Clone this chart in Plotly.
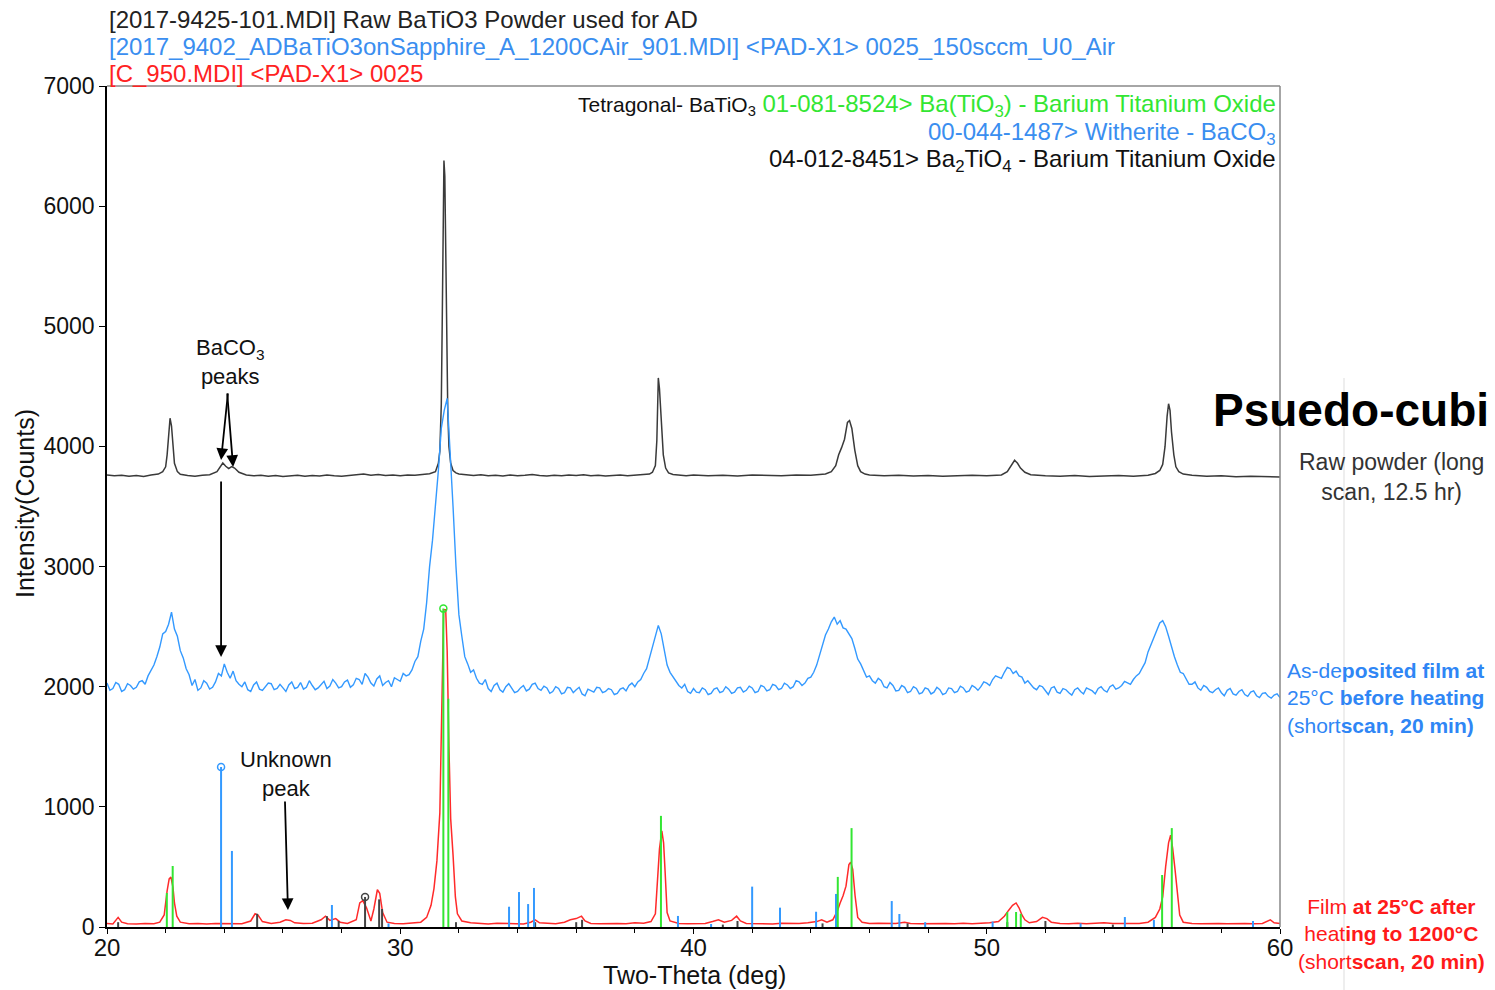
import plotly.graph_objects as go

# ---------------- data ----------------
# Raw BaTiO3 powder (black)
black_x = [20.0, 20.25, 20.5, 20.75, 21.0, 21.25, 21.5, 21.75, 21.9, 22.0, 22.05, 22.1, 22.15, 22.2, 22.25, 22.3, 22.4, 22.5,
           22.75, 23.0, 23.25, 23.5, 23.75, 23.9, 23.95, 24.05, 24.15, 24.25, 24.35, 24.5, 24.75, 25.0, 25.25, 25.5, 25.75,
           26.0, 26.25, 26.5, 26.75, 27.0, 27.25, 27.5, 27.75, 28.0, 28.25, 28.5, 28.75, 29.0, 29.25, 29.5, 29.75, 30.0,
           30.25, 30.5, 30.75, 31.0, 31.2, 31.3, 31.35, 31.4, 31.43, 31.46, 31.49, 31.52, 31.55, 31.58, 31.62, 31.66, 31.72,
           31.8, 31.9, 32.0, 32.25, 32.5, 32.75, 33.0, 33.25, 33.5, 33.75, 34.0, 34.25, 34.5, 34.75, 35.0, 35.25, 35.5, 35.75,
           36.0, 36.25, 36.5, 36.75, 37.0, 37.25, 37.5, 37.75, 38.0, 38.25, 38.5, 38.6, 38.7, 38.75, 38.8, 38.84, 38.88, 38.92,
           38.97, 39.05, 39.15, 39.3, 39.5, 39.75, 40.0, 40.5, 41.0, 41.5, 42.0, 42.5, 43.0, 43.5, 44.0, 44.5, 44.7, 44.85,
           44.95, 45.05, 45.15, 45.25, 45.32, 45.4, 45.5, 45.6, 45.7, 45.85, 46.0, 46.5, 47.0, 47.5, 48.0, 48.5, 49.0, 49.5,
           50.0, 50.5, 50.7, 50.85, 50.95, 51.05, 51.15, 51.3, 51.5, 52.0, 52.5, 53.0, 53.5, 54.0, 54.5, 55.0, 55.5, 55.75,
           55.9, 56.0, 56.08, 56.15, 56.2, 56.25, 56.3, 56.38, 56.45, 56.55, 56.7, 57.0, 57.5, 58.0, 58.5, 59.0, 59.5, 60.0]
black_y = [3762, 3755, 3760, 3752, 3758, 3750, 3762, 3770, 3790, 3830, 3930, 4130, 4235, 4170, 4000, 3860, 3790, 3768,
           3758, 3752, 3760, 3765, 3790, 3840, 3862, 3835, 3815, 3832, 3820, 3785, 3762, 3755, 3760, 3752, 3758,
           3750, 3756, 3760, 3752, 3758, 3754, 3762, 3756, 3752, 3758, 3762, 3770, 3760, 3766, 3758, 3762, 3756,
           3762, 3760, 3766, 3772, 3790, 3860, 3960, 4350, 5000, 6000, 6380, 6250, 5600, 4900, 4300, 4000, 3860,
           3800, 3780, 3770, 3762, 3758, 3764, 3756, 3760, 3754, 3762, 3756, 3760, 3766, 3758, 3754, 3760, 3756, 3762,
           3758, 3764, 3756, 3760, 3754, 3758, 3762, 3756, 3760, 3764, 3770, 3785, 3840, 4050, 4570, 4480, 4300, 4100,
           3930, 3820, 3780, 3766, 3760, 3756, 3762, 3756, 3760, 3754, 3762, 3758, 3756, 3762, 3760, 3770, 3790, 3840,
           3930, 3990, 4060, 4200, 4215, 4150, 3970, 3840, 3790, 3770, 3762, 3756, 3760, 3754, 3758, 3752, 3756, 3760,
           3756, 3762, 3790, 3850, 3885, 3860, 3820, 3785, 3765, 3756, 3752, 3758, 3750, 3754, 3758, 3752, 3760, 3775,
           3800, 3850, 4000, 4250, 4355, 4300, 4120, 3930, 3830, 3790, 3770, 3760, 3752, 3756, 3748, 3752, 3746, 3745]

# As-deposited film (blue), sampled every 0.1 deg from 20 to 60 (one row = 2 deg)
blue_step = 0.1
blue_y = [2030, 1970, 1985, 2035, 2020, 1960, 1975, 2025, 2010, 1980, 1995, 2040, 2050, 2020, 2090, 2140, 2180, 2250, 2330, 2440,
          2460, 2520, 2620, 2480, 2420, 2300, 2240, 2150, 2100, 2010, 2060, 1970, 1990, 2050, 2030, 1980, 1995, 2040, 2110, 2090,
          2190, 2120, 2070, 2130, 2050, 2020, 2000, 2040, 1975, 1960, 2015, 2040, 1980, 1970, 2005, 2030, 2025, 1975, 1985, 2020,
          1990, 1960, 2015, 2040, 1985, 1995, 2035, 1980, 1995, 2050, 2010, 1975, 1990, 2020, 2045, 1985, 2005, 2060, 2030, 1990,
          2000, 2040, 2055, 1995, 2015, 2070, 2060, 2020, 2110, 2080, 2030, 2005, 2065, 2090, 2010, 2035, 2050, 2000, 2075, 2060,
          2045, 2110, 2090, 2100, 2140, 2210, 2250, 2380, 2480, 2700, 3000, 3220, 3500, 3800, 4150, 4300, 4400, 4000, 3500, 3000,
          2600, 2420, 2250, 2190, 2120, 2140, 2070, 2030, 2020, 2060, 1985, 1960, 2010, 2030, 1975, 1955, 2000, 2025, 1990, 1950,
          1960, 1990, 2010, 1965, 1980, 2020, 2030, 1985, 1970, 2005, 1990, 1945, 1960, 2000, 1985, 1940, 1950, 1995, 1990, 1950,
          1975, 1995, 1940, 1925, 1980, 1970, 1955, 1995, 1990, 1950, 1960, 1985, 1975, 1935, 1945, 1980, 1990, 1965, 2010, 2030,
          2000, 2040, 2060, 2110, 2150, 2240, 2330, 2420, 2510, 2440, 2300, 2180, 2120, 2080, 2040, 2010, 1990, 2020, 1960, 1945,
          1985, 1955, 1950, 1990, 1975, 1935, 1945, 1980, 1990, 1950, 1960, 2000, 1980, 1945, 1955, 1990, 1995, 1955, 1970, 2005,
          1990, 1950, 1960, 2010, 2000, 1965, 1975, 2020, 2010, 1975, 1985, 2030, 2015, 1985, 2000, 2050, 2040, 2010, 2030, 2070,
          2080, 2120, 2180, 2270, 2350, 2430, 2480, 2540, 2580, 2520, 2550, 2490, 2480, 2440, 2400, 2320, 2230, 2190, 2140, 2080,
          2090, 2050, 2030, 2070, 2050, 2000, 1990, 2035, 2010, 1965, 1970, 2010, 1995, 1950, 1960, 2000, 1985, 1940, 1950, 1990,
          1980, 1940, 1955, 1995, 1975, 1935, 1945, 1990, 1985, 1950, 1960, 2005, 1990, 1955, 1965, 2010, 1995, 1970, 2000, 2040,
          2030, 2010, 2060, 2090, 2080, 2070, 2120, 2160, 2150, 2110, 2130, 2090, 2080, 2030, 2050, 2020, 1990, 1975, 2010, 2000,
          1970, 1935, 1990, 2000, 1955, 1945, 1985, 1975, 1950, 1930, 1975, 1990, 1960, 1940, 1990, 1980, 1965, 1940, 1985, 2000,
          1970, 1955, 2000, 2015, 1980, 1990, 2010, 2045, 2030, 2020, 2060, 2090, 2110, 2150, 2200, 2290, 2350, 2420, 2480, 2530,
          2550, 2500, 2420, 2330, 2250, 2180, 2120, 2110, 2060, 2020, 2020, 2040, 1990, 1970, 2010, 1995, 1960, 1950, 1975, 1990,
          1950, 1925, 1970, 1985, 1940, 1930, 1960, 1975, 1935, 1920, 1955, 1965, 1925, 1910, 1945, 1950, 1920, 1905, 1930, 1940,
          1910]
blue_x = [round(20 + blue_step * i, 2) for i in range(len(blue_y))]

# Film after heating to 1200 C (red)
red_x = [20.0, 20.2, 20.38, 20.5, 20.7, 21.0, 21.3, 21.6, 21.8, 21.95, 22.05, 22.12, 22.18, 22.25, 22.3, 22.38, 22.5, 22.8,
         23.1, 23.4, 23.7, 24.0, 24.3, 24.6, 24.9, 25.05, 25.15, 25.3, 25.6, 25.9, 26.1, 26.25, 26.4, 26.7, 27.0, 27.3,
         27.45, 27.6, 27.8, 27.95, 28.2, 28.5, 28.62, 28.72, 28.85, 29.0, 29.1, 29.22, 29.3, 29.4, 29.55, 29.8, 30.1,
         30.4, 30.7, 30.9, 31.05, 31.15, 31.25, 31.35, 31.42, 31.48, 31.55, 31.6, 31.66, 31.72, 31.8, 31.88, 31.95, 32.1,
         32.4, 32.7, 33.0, 33.3, 33.6, 33.9, 34.2, 34.45, 34.6, 34.75, 35.0, 35.3, 35.6, 35.8, 36.0, 36.18, 36.3, 36.5,
         36.8, 37.1, 37.4, 37.7, 38.0, 38.3, 38.55, 38.7, 38.78, 38.84, 38.92, 38.98, 39.03, 39.1, 39.2, 39.5, 39.8,
         40.1, 40.4, 40.65, 40.85, 41.05, 41.3, 41.47, 41.6, 41.8, 42.1, 42.4, 42.7, 43.0, 43.3, 43.6, 43.9, 44.2,
         44.37, 44.55, 44.75, 44.9, 45.0, 45.1, 45.2, 45.3, 45.36, 45.43, 45.51, 45.6, 45.75, 46.0, 46.3, 46.6, 46.9,
         47.2, 47.4, 47.7, 48.0, 48.3, 48.6, 48.9, 49.2, 49.5, 49.8, 50.1, 50.4, 50.6, 50.75, 50.88, 51.0, 51.1, 51.2,
         51.3, 51.45, 51.7, 51.9, 52.05, 52.2, 52.5, 52.8, 53.1, 53.4, 53.7, 54.0, 54.3, 54.6, 54.9, 55.2, 55.5, 55.75,
         55.9, 56.0, 56.1, 56.2, 56.27, 56.34, 56.42, 56.5, 56.58, 56.7, 57.0, 57.3, 57.6, 57.9, 58.2, 58.5, 58.8, 59.1,
         59.4, 59.67, 59.8, 60.0]
red_y = [30, 25, 80, 40, 28, 25, 30, 28, 40, 100, 300, 400, 415, 330, 200, 90, 40, 28,
         30, 25, 30, 28, 32, 28, 50, 110, 100, 45, 30, 40, 60, 55, 35, 30, 32, 60,
         90, 55, 70, 40, 30, 60, 200, 220, 160, 50, 150, 310, 280, 120, 40, 30, 28,
         32, 40, 80, 180, 320, 550, 950, 1900, 2640, 2640, 2300, 1500, 900, 600, 250, 110, 50,
         35, 30, 25, 32, 28, 30, 25, 40, 60, 35, 30, 28, 40, 60, 70, 90, 50, 30,
         28, 32, 30, 28, 35, 32, 45, 110, 400, 650, 800, 700, 470, 120, 50, 30, 28,
         32, 30, 45, 60, 40, 55, 90, 50, 30, 28, 30, 26, 32, 28, 30, 35, 45,
         60, 40, 60, 130, 200, 260, 340, 520, 540, 480, 260, 80, 40, 30, 32, 28, 30,
         40, 30, 28, 30, 26, 30, 28, 32, 28, 30, 35, 45, 90, 140, 180, 200, 160, 100,
         60, 35, 45, 80, 70, 40, 30, 28, 32, 28, 30, 35, 30, 28, 32, 30, 40, 80,
         150, 250, 500, 700, 765, 655, 480, 300, 100, 40, 30, 28, 32, 30, 28, 32, 30, 28,
         30, 60, 35, 30]

# Reference patterns (stick positions / heights)
green_x = [22.04, 22.24, 31.47, 31.64, 38.89, 44.92, 45.39, 50.70, 51.00, 51.16, 55.98, 56.31]
green_h = [283, 508, 2650, 1900, 925, 417, 823, 125, 125, 110, 433, 823]
bluestick_x = [23.89, 24.26, 27.67, 29.6, 33.71, 34.05, 34.36, 34.56, 39.47, 40.6, 42.0, 42.95, 44.18, 44.86,
               46.76, 47.02, 47.9, 50.2, 53.2, 54.71, 55.7, 59.08]
bluestick_h = [1332, 633, 183, 30, 169, 291, 191, 325, 92, 25, 336, 161, 127, 275,
               216, 108, 40, 45, 30, 83, 60, 50]
gray_x = [20.38, 25.12, 27.5, 27.9, 28.8, 29.28, 29.38, 31.9, 34.6, 36.0, 36.2, 41.0, 41.5, 44.4, 47.3, 50.7, 52.0, 54.3]
gray_h = [40, 110, 90, 50, 250, 230, 150, 40, 40, 40, 60, 20, 50, 30, 30, 40, 50, 20]

# selected-peak markers
mark_x = [23.89, 31.47, 28.8]
mark_y = [1332, 2650, 250]

# ---------------- styling helpers ----------------
FONT = "Liberation Sans, Arial, sans-serif"
W, H = 1495, 990
OFF = 8  # page body margin of the browser
L, R, T, B = 107, 1280, 86, 927  # plot area in page pixels


def pxx(p):
    return (p - L) / (R - L)


def pxy(p):
    return (B - p) / (B - T)


def sticks(xs, hs):
    X, Y = [], []
    for x, h in zip(xs, hs):
        X += [x, x, None]
        Y += [0, h, None]
    return X, Y


BLACK = "#3a3a3a"
BLUE = "#3399ff"
RED = "#ff2a2a"
GREEN = "#33e633"
GRAY = "#444444"

fig = go.Figure()
fig.add_trace(go.Scatter(x=black_x, y=black_y, mode="lines", line=dict(color=BLACK, width=1.5), showlegend=False))
fig.add_trace(go.Scatter(x=blue_x, y=blue_y, mode="lines", line=dict(color=BLUE, width=1.4), showlegend=False))
fig.add_trace(go.Scatter(x=red_x, y=red_y, mode="lines", line=dict(color=RED, width=1.5), showlegend=False))
sx, sy = sticks(gray_x, gray_h)
fig.add_trace(go.Scatter(x=sx, y=sy, mode="lines", line=dict(color=GRAY, width=2), showlegend=False))
sx, sy = sticks(bluestick_x, bluestick_h)
fig.add_trace(go.Scatter(x=sx, y=sy, mode="lines", line=dict(color=BLUE, width=2), showlegend=False))
sx, sy = sticks(green_x, green_h)
fig.add_trace(go.Scatter(x=sx, y=sy, mode="lines", line=dict(color=GREEN, width=2), showlegend=False))
fig.add_trace(go.Scatter(x=mark_x, y=mark_y, mode="markers", showlegend=False,
                         marker=dict(symbol="circle-open", size=7, line=dict(width=1.5),
                                     color=[BLUE, GREEN, GRAY])))

ann = []


def text(xp, yp, s, size, color, xanchor="left", align="left", yanchor="middle", textangle=0):
    ann.append(dict(x=pxx(xp), y=pxy(yp), xref="paper", yref="paper", text=s, showarrow=False,
                    xanchor=xanchor, yanchor=yanchor, align=align, textangle=textangle, borderpad=0,
                    font=dict(family=FONT, size=size, color=color)))


# header lines
text(108, 20, "[2017-9425-101.MDI] Raw BaTiO3 Powder used for AD", 24, "#222222")
text(108, 47, "[2017_9402_ADBaTiO3onSapphire_A_1200CAir_901.MDI] &lt;PAD-X1&gt; 0025_150sccm_U0_Air", 24, "#3a8ef0")
text(108, 74, "[C_950.MDI] &lt;PAD-X1&gt; 0025", 24, "#ff2222")

# reference legend inside plot
text(1277, 105, "<span style='font-size:21px'>Tetragonal- BaTiO<sub>3</sub></span> "
     "<span style='color:#33e633'>01-081-8524&gt; Ba(TiO<sub>3</sub>) - Barium Titanium Oxide</span>",
     24, "#111111", xanchor="right", align="right")
text(1277, 133, "00-044-1487&gt; Witherite - BaCO<sub>3</sub>", 24, "#3a8ef0", xanchor="right", align="right")
text(1277, 160, "04-012-8451&gt; Ba<sub>2</sub>TiO<sub>4</sub> - Barium Titanium Oxide", 24, "#111111",
     xanchor="right", align="right")

# in-plot labels
text(230, 362, "BaCO<sub>3</sub><br>peaks", 22, "#111111", xanchor="center", align="center")
text(286, 774, "Unknown<br>peak", 22, "#111111", xanchor="center", align="center")

# right-side labels
text(1212, 410, "<b>Psuedo-cubic</b>", 46, "#000000")
text(1391, 477, "Raw powder (long<br>scan, 12.5 hr)", 23, "#333333", xanchor="center", align="center")
text(1286, 698, "As-de<b>posited film at</b><br>25°C <b>before heating</b><br>(short<b>scan, 20 min)</b>",
     21, "#2f86f5")
text(1391, 934, "Film <b>at 25°C after</b><br>heat<b>ing to 1200°C</b><br>(short<b>scan, 20 min)</b>",
     21, "#ff1a1a", xanchor="center", align="center")

# axis titles
text(694, 975, "Two-Theta (deg)", 25, "#111111", xanchor="center", align="center")
text(25, 504, "Intensity(Counts)", 25, "#111111", xanchor="center", align="center", textangle=-90)


def arrow(hx, hy, tx, ty):
    # head in data coords, tail offset in pixels from head
    ann.append(dict(x=hx, y=hy, xref="x", yref="y", text="", showarrow=True,
                    ax=tx, ay=ty, axref="pixel", ayref="pixel",
                    arrowhead=2, arrowsize=1.3, arrowwidth=1.8, arrowcolor="#000000"))


arrow(23.89, 3887, 7, -68)
arrow(24.30, 3829, -6, -75)
arrow(23.89, 2247, 0, -177)
arrow(26.17, 141, -3, -110)

fig.update_layout(
    width=W - OFF, height=H - OFF,
    margin=dict(l=L - OFF, r=W - R, t=T - OFF, b=H - B, pad=0),
    paper_bgcolor="white", plot_bgcolor="white",
    annotations=ann,
    font=dict(family=FONT, size=24, color="#111111"),
    xaxis=dict(range=[20, 60], dtick=10, tick0=20, showgrid=False, zeroline=False,
               showline=True, linecolor="#000000", linewidth=1.5,
               ticks="outside", ticklen=5, tickwidth=1.2, tickcolor="#000000",
               ticklabelstandoff=-7,
               minor=dict(dtick=2, ticks="outside", ticklen=4, tickcolor="#000000", showgrid=False),
               tickfont=dict(family=FONT, size=24, color="#111111")),
    yaxis=dict(range=[0, 7000], dtick=1000, showgrid=False, zeroline=False,
               showline=True, linecolor="#000000", linewidth=1.5,
               ticks="outside", ticklen=6, tickwidth=1.2, tickcolor="#000000",
               tickfont=dict(family=FONT, size=23, color="#111111")),
    shapes=[
        dict(type="line", xref="paper", yref="paper", x0=0, x1=1, y0=1, y1=1, line=dict(color="#888888", width=1.5)),
        dict(type="line", xref="paper", yref="paper", x0=1, x1=1, y0=0, y1=1, line=dict(color="#888888", width=1.5)),
        dict(type="line", xref="paper", yref="paper", x0=pxx(1344), x1=pxx(1344), y0=pxy(990), y1=pxy(378),
             line=dict(color="#dddddd", width=1)),
    ],
)

fig.write_html("out.html")
